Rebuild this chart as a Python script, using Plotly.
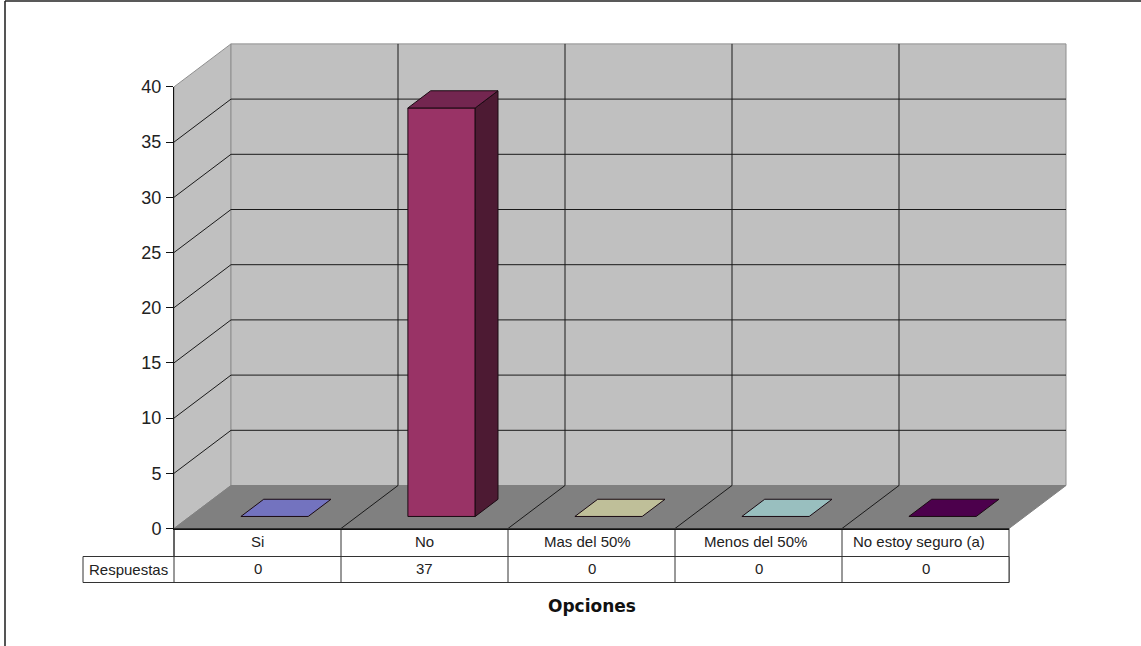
import plotly.graph_objects as go

# Survey results
categorias = ["Si", "No", "Mas del 50%", "Menos del 50%", "No estoy seguro (a)"]
respuestas = [0, 37, 0, 0, 0]
serie = "Respuestas"
eje_titulo = "Opciones"
valores_eje = [0, 5, 10, 15, 20, 25, 30, 35, 40]

# Bar faces: front, top, side
frente = ["#9999FF", "#993366", "#FFFFCC", "#CCFFFF", "#660066"]
tapa = ["#7373BF", "#732650", "#BFBF99", "#99BFBF", "#4C004C"]
lado = ["#4D4D80", "#4D1A33", "#808066", "#668080", "#330033"]

# Horizontal nudge of the longer category labels
ajuste_etiqueta = [0, 0, -4, -3, -7]

# Page layout in pixels
W, H = 1141, 646
X0, Y0 = 174.0, 528.5       # origin of the front plane
CAT_PX = 167.0              # width of one category
VAL_PX = 11.04              # height of one value unit

# Depth of the box and of the bars, in axis units
PROF_X, PROF_Y = 57 / CAT_PX, 43 / VAL_PX
BAR_D0, BAR_D1 = 0.28, 0.68
BAR_L, BAR_R = 0.305, 0.708

# Table rows below the floor, in axis units
FILA_1 = -28 / VAL_PX
FILA_2 = -54 / VAL_PX
COL_ETIQ = -91 / CAT_PX

MURO = "#C0C0C0"
SUELO = "#808080"
BORDE = "#8E8E8E"
LINEA = "#1A1A1A"
n = len(categorias)
tope = valores_eje[-1]

fig = go.Figure()


def poly(xs, ys, fill=None, line=LINEA, width=1):
    fig.add_trace(go.Scatter(
        x=xs, y=ys, mode="lines", hoverinfo="skip", showlegend=False,
        fill="toself" if fill else None, fillcolor=fill,
        line=dict(color=line, width=width),
    ))


def prof(x, y, d):
    return x + d * PROF_X, y + d * PROF_Y


# Walls and floor
poly([0, PROF_X, PROF_X, 0, 0], [tope, tope + PROF_Y, PROF_Y, 0, tope], MURO, BORDE)
poly([PROF_X, n + PROF_X, n + PROF_X, PROF_X, PROF_X],
     [tope + PROF_Y, tope + PROF_Y, PROF_Y, PROF_Y, tope + PROF_Y], MURO, BORDE)
poly([0, n, n + PROF_X, PROF_X, 0], [0, 0, PROF_Y, PROF_Y, 0], SUELO, SUELO)

# Grid lines on the side wall and the back wall
for v in valores_eje[1:-1]:
    poly([0, PROF_X, n + PROF_X], [v, v + PROF_Y, v + PROF_Y])

# Category dividers on the back wall and the floor
for i in range(1, n):
    poly([i, i + PROF_X, i + PROF_X], [0, PROF_Y, tope + PROF_Y])

# Bars
for i, v in enumerate(respuestas):
    l, r = i + BAR_L, i + BAR_R
    fx0, fy0 = prof(l, 0, BAR_D0)
    fx1, _ = prof(r, 0, BAR_D0)
    bx0, by0 = prof(l, 0, BAR_D1)
    bx1, _ = prof(r, 0, BAR_D1)
    if v > 0:
        poly([fx0, fx1, fx1, fx0, fx0], [fy0, fy0, fy0 + v, fy0 + v, fy0], frente[i], "#1A0A12")
        poly([fx1, bx1, bx1, fx1, fx1], [fy0, by0, by0 + v, fy0 + v, fy0], lado[i], "#1A0A12")
    poly([fx0, fx1, bx1, bx0, fx0],
         [fy0 + v, fy0 + v, by0 + v, by0 + v, fy0 + v], tapa[i], "#1A0A12")

# Data table under the chart
poly([0, n, n, 0, 0], [0, 0, FILA_2, FILA_2, 0], "#FFFFFF", "#333333")
poly([COL_ETIQ, n, n, COL_ETIQ, COL_ETIQ], [FILA_1, FILA_1, FILA_2, FILA_2, FILA_1], "#FFFFFF", "#333333")
for i in range(1, n):
    poly([i, i], [0, FILA_2], None, "#333333")
poly([0, 0], [0, FILA_2], None, "#333333")

# Outer frame, open along the bottom
xl, xr = -169 / CAT_PX, (1139 - X0) / CAT_PX
yt, yb = (Y0 - 1) / VAL_PX, (Y0 - H) / VAL_PX
poly([xl, xl], [yb, yt], None, "#555555", 2)
poly([xl, xr + 5], [yt, yt], None, "#222222", 1.5)

texto = dict(family="Liberation Sans", size=15, color="#222222")
notas = []
for i, (c, v) in enumerate(zip(categorias, respuestas)):
    notas.append(dict(x=i + 0.5, y=FILA_1 / 2, text=c, font=texto, xshift=ajuste_etiqueta[i],
                      yshift=1, showarrow=False, xref="x", yref="y"))
    notas.append(dict(x=i + 0.5, y=(FILA_1 + FILA_2) / 2, text=str(v), font=texto,
                      yshift=1, showarrow=False, xref="x", yref="y"))
notas.append(dict(x=COL_ETIQ / 2, y=(FILA_1 + FILA_2) / 2, text=serie, font=texto,
                  showarrow=False, xref="x", yref="y"))
notas.append(dict(x=n / 2, y=-77 / VAL_PX, text=f"<b>{eje_titulo}</b>", showarrow=False,
                  xref="x", yref="y",
                  font=dict(family="DejaVu Sans", size=17, color="#111111")))

# Value axis on its own overlay so its ticks come from the scale
fig.add_trace(go.Scatter(x=[0, n], y=[0, tope], xaxis="x2", yaxis="y2", mode="lines",
                         hoverinfo="skip", showlegend=False,
                         line=dict(color="rgba(0,0,0,0)")))

fig.update_layout(
    width=W, height=H,
    margin=dict(l=0, r=0, t=0, b=0, autoexpand=False),
    paper_bgcolor="white", plot_bgcolor="rgba(0,0,0,0)",
    showlegend=False,
    annotations=notas,
    xaxis=dict(domain=[0, 1], range=[-X0 / CAT_PX, (W - X0) / CAT_PX], visible=False),
    yaxis=dict(domain=[0, 1], range=[(Y0 - H) / VAL_PX, Y0 / VAL_PX], visible=False),
    xaxis2=dict(domain=[X0 / W, (X0 + n * CAT_PX) / W], range=[0, n], anchor="y2",
                showgrid=False, zeroline=False, showticklabels=False, ticks="",
                showline=True, linecolor="#111111", linewidth=1),
    yaxis2=dict(domain=[(H - Y0) / H, (H - Y0 + tope * VAL_PX) / H], range=[0, tope],
                anchor="x2", tickvals=valores_eje, ticks="outside", ticklen=7,
                tickcolor="#111111", showgrid=False, zeroline=False,
                showline=True, linecolor="#111111", linewidth=1, ticklabelstandoff=1,
                tickfont=dict(family="Liberation Sans", size=18, color="#222222")),
)

fig.write_html("out.html", config=dict(displayModeBar=False))
